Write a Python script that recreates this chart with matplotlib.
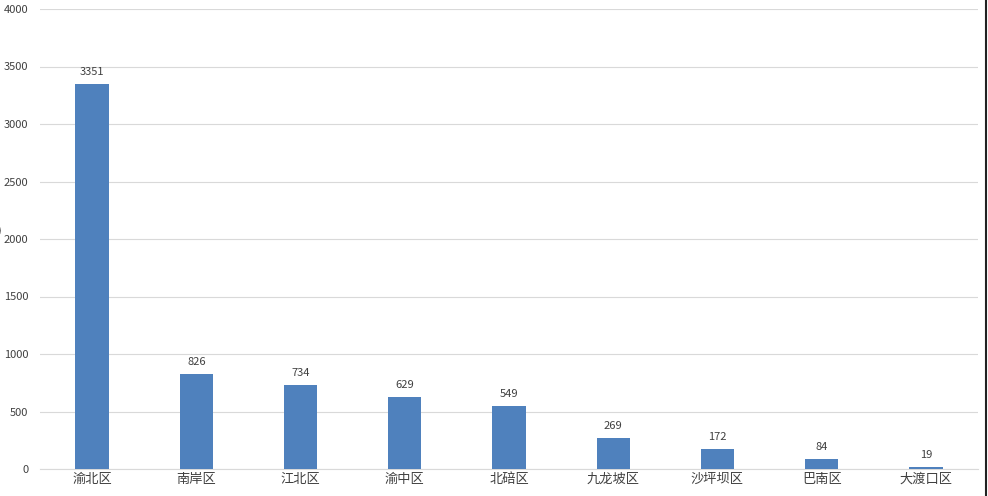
import matplotlib.pyplot as plt
from matplotlib.lines import Line2D

plt.rcParams['font.family'] = ['Noto Sans CJK SC', 'DejaVu Sans']

districts = ["渝北区", "南岸区", "江北区", "渝中区", "北碚区", "九龙坡区", "沙坪坝区", "巴南区", "大渡口区"]
counts = [3351, 826, 734, 629, 549, 269, 172, 84, 19]
yticks = [0, 500, 1000, 1500, 2000, 2500, 3000, 3500, 4000]

barColor = "#4f81bd"
textColor = "#404040"
gridColor = "#d9d9d9"

fig = plt.figure(figsize=(9.88, 4.96), dpi=100)
ax = fig.add_axes([40 / 988, 27 / 496, 938 / 988, 460 / 496])

idx = list(range(len(districts)))
bars = ax.bar(idx, counts, width=0.32, color=barColor, zorder=3)

for b, v in zip(bars, counts):
    ax.annotate(str(v), (b.get_x() + b.get_width() / 2, v), xytext=(0, 5),
                textcoords="offset points", ha="center", va="bottom",
                fontsize=8, color=textColor)

ax.set_xlim(-0.5, len(districts) - 0.5)
ax.set_ylim(0, 4000)
ax.set_yticks(yticks)
ax.set_xticks(idx)
ax.set_xticklabels(districts, fontsize=9.5, color=textColor)
ax.tick_params(axis="y", labelsize=8, colors=textColor, length=0, pad=8.5)
ax.tick_params(axis="x", length=0, pad=3)
ax.grid(axis="y", color=gridColor, linewidth=0.8, zorder=0)

for side in ["top", "right", "left"]:
    ax.spines[side].set_visible(False)
ax.spines["bottom"].set_color(gridColor)
ax.spines["bottom"].set_linewidth(0.8)

# cut-off axis label at left edge and dark border at right edge
fig.text(-0.002, 0.535, ")", fontsize=8, color=textColor, ha="left", va="center")
fig.add_artist(Line2D([0.998, 0.998], [0, 1], color="#222222", linewidth=1.5,
                      transform=fig.transFigure))

fig.savefig("out.png", dpi=100)
